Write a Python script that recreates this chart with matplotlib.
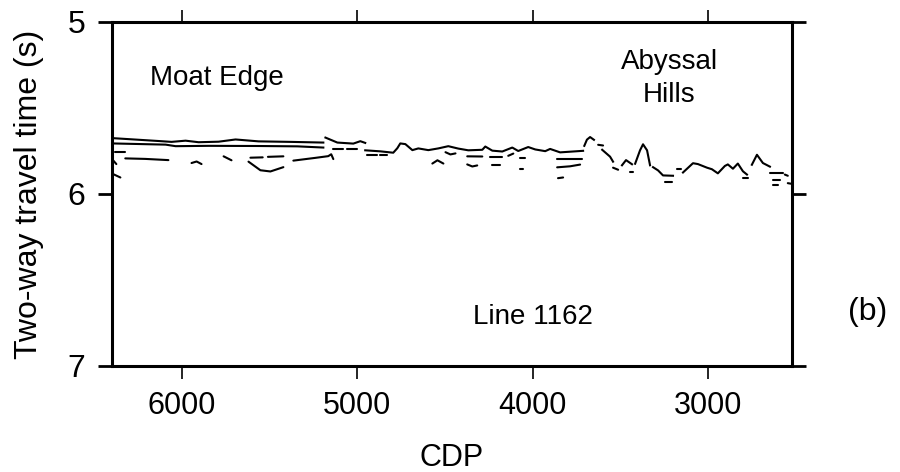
import matplotlib
matplotlib.use('Agg')
import matplotlib.pyplot as plt

plt.rcParams['font.family'] = ['Liberation Sans', 'DejaVu Sans']

# --- horizons picked on Line 1162 (CDP, two-way time in s) ---
upper_cdp = [6400, 6134, 6060, 5980, 5906, 5792, 5695, 5564, 5382, 5194]
upper_twt = [5.675, 5.692, 5.697, 5.690, 5.699, 5.696, 5.683, 5.694, 5.697, 5.701]

lower_cdp = [6400, 6094, 6037, 5849, 5564, 5342, 5194]
lower_twt = [5.706, 5.713, 5.722, 5.720, 5.721, 5.723, 5.730]

upper2_cdp = [5182, 5114, 5023, 4983, 4955]
upper2_twt = [5.672, 5.701, 5.707, 5.693, 5.703]

main_cdp = [4955, 4869, 4795, 4772, 4755, 4726, 4686, 4652, 4595, 4538, 4481,
            4424, 4367, 4287, 4270, 4230, 4173, 4116, 4082, 4025, 3985, 3928,
            3900, 3843, 3712]
main_twt = [5.746, 5.752, 5.760, 5.734, 5.706, 5.710, 5.745, 5.735, 5.745,
            5.735, 5.722, 5.736, 5.746, 5.743, 5.724, 5.748, 5.753, 5.730,
            5.750, 5.727, 5.741, 5.751, 5.738, 5.758, 5.749]

# abyssal hills basement
hills_cdp = [
    [3705, 3690, 3672, 3650],
    [3603, 3558, 3541],
    [3490, 3467, 3433],
    [3415, 3387, 3370, 3347, 3330],
    [3313, 3284, 3256, 3199],
    [3142, 3085, 3057, 3005, 2977, 2943, 2903, 2886, 2857, 2829, 2800, 2777],
    [2749, 2720, 2686, 2646],
]
hills_twt = [
    [5.720, 5.684, 5.669, 5.685],
    [5.743, 5.783, 5.812],
    [5.833, 5.803, 5.827],
    [5.824, 5.746, 5.711, 5.746, 5.833],
    [5.844, 5.863, 5.892, 5.894],
    [5.875, 5.821, 5.826, 5.847, 5.856, 5.880, 5.837, 5.828, 5.853, 5.823, 5.868, 5.887],
    [5.830, 5.772, 5.820, 5.841],
]

# short discontinuous reflector pieces
dash_cdp = [
    [6381, 6324], [6324, 6210, 6078], [5946, 5917, 5889], [5763, 5718],
    [5610, 5540], [5510, 5422], [5621, 5553, 5496, 5422],
    [5365, 5240, 5166, 5149, 5137], [6392, 6375], [6392, 6352],
    [5137, 5080], [5060, 5000], [4943, 4890], [4870, 4829],
    [4497, 4469, 4440], [4572, 4543, 4509], [4373, 4287], [4373, 4344, 4316],
    [4241, 4173], [4230, 4184], [4139, 4110], [4070, 4042], [4070, 4053],
    [3860, 3717], [3860, 3786, 3729], [3855, 3826],
    [3626, 3598], [3541, 3512], [3444, 3427], [3244, 3204], [3176, 3153],
    [2800, 2772], [2646, 2572], [2561, 2544], [2544, 2521], [2629, 2589],
    [2629, 2600],
]
dash_twt = [
    [5.758, 5.758], [5.793, 5.796, 5.803], [5.820, 5.811, 5.826], [5.781, 5.804],
    [5.789, 5.787], [5.784, 5.781], [5.812, 5.862, 5.869, 5.844],
    [5.806, 5.790, 5.780, 5.769, 5.797], [5.806, 5.826], [5.885, 5.904],
    [5.737, 5.737], [5.737, 5.737], [5.771, 5.771], [5.771, 5.771],
    [5.757, 5.770, 5.764], [5.823, 5.804, 5.823], [5.781, 5.782], [5.828, 5.840, 5.834],
    [5.787, 5.787], [5.830, 5.830], [5.778, 5.765], [5.789, 5.789], [5.856, 5.856],
    [5.796, 5.796], [5.845, 5.839, 5.829], [5.908, 5.904],
    [5.714, 5.718], [5.847, 5.859], [5.872, 5.872], [5.932, 5.932], [5.855, 5.855],
    [5.907, 5.907], [5.876, 5.876], [5.887, 5.894], [5.937, 5.941], [5.916, 5.916],
    [5.945, 5.945],
]

x_ticks = [6000, 5000, 4000, 3000]
y_ticks = [5, 6, 7]

fig = plt.figure(figsize=(9, 4.72), dpi=100)
ax = fig.add_axes([0.1244, 0.2246, 0.7556, 0.7288])

lw = 1.5
ax.plot(upper_cdp, upper_twt, 'k', lw=lw)
ax.plot(lower_cdp, lower_twt, 'k', lw=lw)
ax.plot(upper2_cdp, upper2_twt, 'k', lw=lw)
ax.plot(main_cdp, main_twt, 'k', lw=lw)
for c, t in zip(hills_cdp, hills_twt):
    ax.plot(c, t, 'k', lw=lw)
for c, t in zip(dash_cdp, dash_twt):
    ax.plot(c, t, 'k', lw=lw, solid_capstyle='round')

ax.set_xlim(6400, 2520)
ax.set_ylim(7, 5)
ax.set_xticks(x_ticks)
ax.set_yticks(y_ticks)

for s in ax.spines.values():
    s.set_linewidth(2.2)

ax.tick_params(axis='x', direction='out', top=True, bottom=True, length=9,
               width=1.2, labelsize=22, pad=9)
ax.tick_params(axis='y', direction='out', left=True, right=True, length=10,
               width=2.0, labelsize=23, pad=9)

ax.set_xlabel('CDP', fontsize=22)
ax.xaxis.set_label_coords(0.5, -0.225)
ax.set_ylabel('Two-way travel time (s)', fontsize=23)
ax.yaxis.set_label_coords(-0.10, 0.5)

ax.text(5803, 5.366, 'Moat Edge', fontsize=20, ha='center', va='baseline')
ax.text(3221, 5.272, 'Abyssal', fontsize=20, ha='center', va='baseline')
ax.text(3221, 5.466, 'Hills', fontsize=20, ha='center', va='baseline')
ax.text(4000, 6.753, 'Line 1162', fontsize=20, ha='center', va='baseline')
fig.text(0.964, 0.322, '(b)', fontsize=23, ha='center', va='baseline')

plt.savefig('out.png', dpi=100)
